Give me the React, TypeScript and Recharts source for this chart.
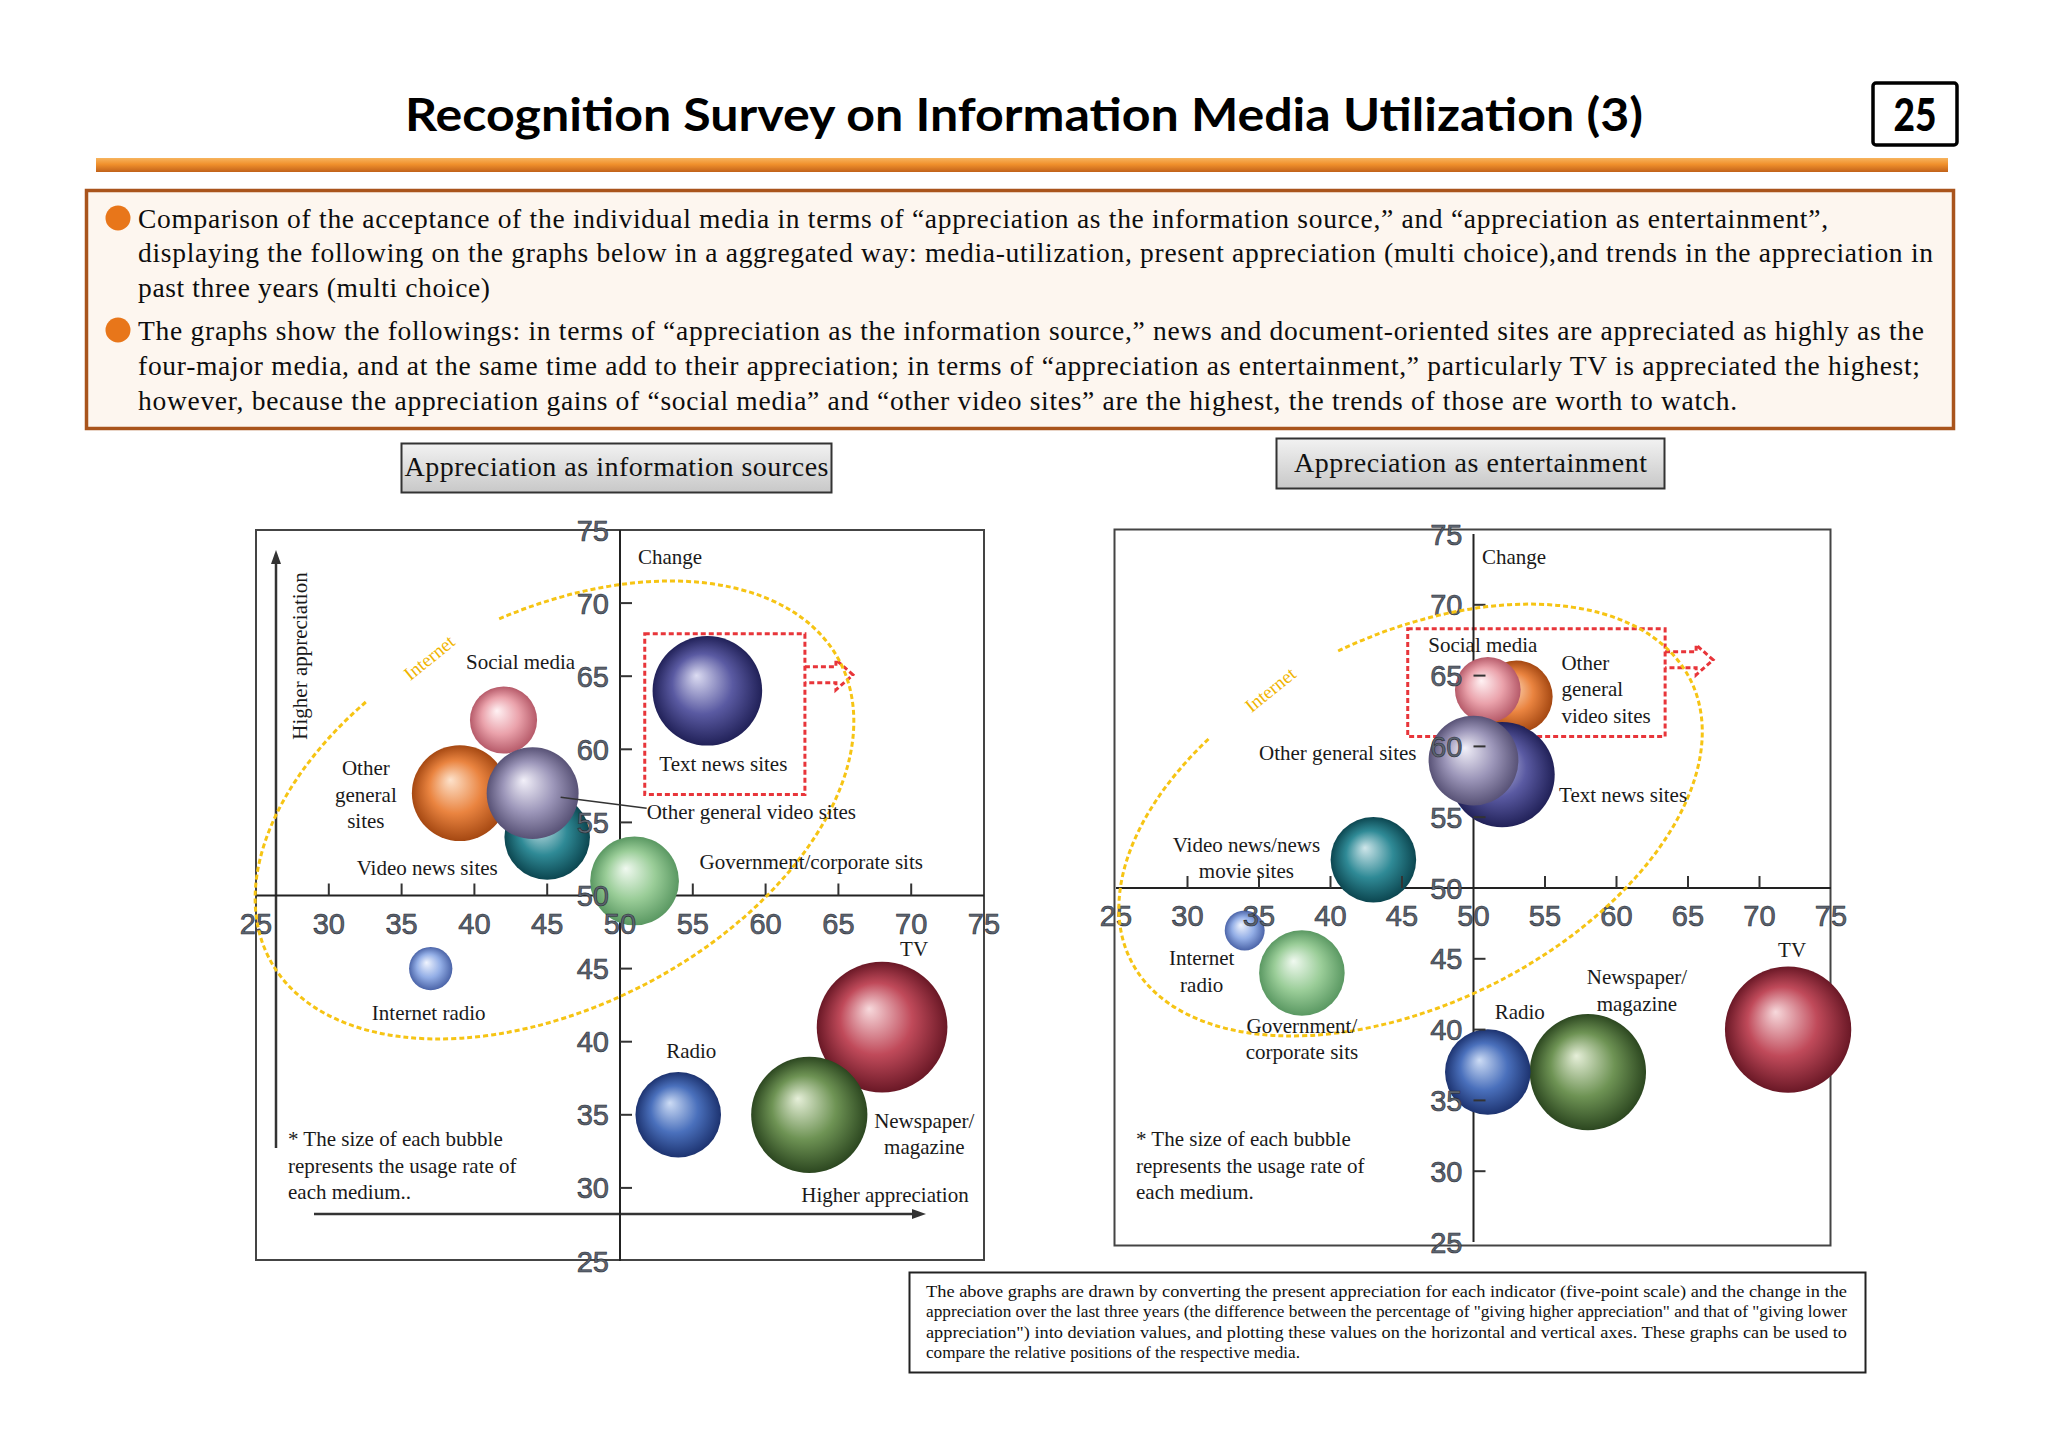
import React from "react";
import {
  ScatterChart,
  Scatter,
  XAxis,
  YAxis,
  ZAxis,
  ReferenceLine,
  ReferenceArea,
} from "recharts";

// ---- data (drawing order = back to front) ----
const INFO_MEDIA = [
  "TV",
  "Newspaper/magazine",
  "Radio",
  "Internet radio",
  "Government/corporate sits",
  "Video news sites",
  "Other general sites",
  "Social media",
  "Other general video sites",
  "Text news sites",
];
const INFO_APPRECIATION = [68, 63, 54, 37, 51, 45, 39, 42, 44, 56];
const INFO_CHANGE = [41, 35, 35, 45, 51, 54, 57, 62, 57, 64];
const INFO_USAGE = [91, 72, 39, 10, 42, 39, 49, 24, 45, 64];

const ENT_MEDIA = [
  "TV",
  "Newspaper/magazine",
  "Radio",
  "Internet radio",
  "Government/corporate sits",
  "Video news/news movie sites",
  "Other general video sites",
  "Social media",
  "Text news sites",
  "Other general sites",
];
const ENT_APPRECIATION = [72, 58, 51, 34, 38, 43, 53, 51, 52, 50];
const ENT_CHANGE = [40, 37, 37, 47, 44, 52, 63.5, 64, 58, 59];
const ENT_USAGE = [85, 72, 39, 8.5, 39, 39, 28, 23, 59, 43];

const AXIS_TICKS = [25, 30, 35, 40, 45, 50, 55, 60, 65, 70, 75];

// ---- styles / layout ----
const SPHERES: Record<string, [string, string, string]> = {
  tv: ["#f7d9dc", "#c04a5a", "#6a1826"],
  news: ["#e6efd9", "#6e9354", "#2c4720"],
  radio: ["#cddcf5", "#4a70bc", "#1d3370"],
  iradio: ["#f0f4fe", "#93aee6", "#4b64a8"],
  gov: ["#f0f9f0", "#9acd98", "#5a9862"],
  teal: ["#cfe6ea", "#2f8a96", "#0c4650"],
  orange: ["#fde2cb", "#ea8440", "#a54812"],
  pink: ["#fff2f4", "#eaa2ab", "#b65a69"],
  gray: ["#f2f0f9", "#9c96b9", "#585276"],
  navy: ["#dcdcf2", "#5a5aa2", "#212158"],
};
const INFO_FILLS = ["tv", "news", "radio", "iradio", "gov", "teal", "orange", "pink", "gray", "navy"];
const ENT_FILLS = ["tv", "news", "radio", "iradio", "gov", "teal", "orange", "pink", "navy", "gray"];

type Lbl = { lines: string[]; dx: number; dy: number; anchor?: string; leader?: number[] };

const INFO_LABELS: Lbl[] = [
  { lines: ["TV"], dx: 32, dy: -78 },
  { lines: ["Newspaper/", "magazine"], dx: 115, dy: 6 },
  { lines: ["Radio"], dx: 13, dy: -64 },
  { lines: ["Internet radio"], dx: -2, dy: 44 },
  { lines: ["Government/corporate sits"], dx: 65, dy: -19, anchor: "start" },
  { lines: ["Video news sites"], dx: -120, dy: 31 },
  { lines: ["Other", "general", "sites"], dx: -94, dy: -25 },
  { lines: ["Social media"], dx: 17, dy: -58 },
  { lines: ["Other general video sites"], dx: 114, dy: 19, anchor: "start", leader: [28, 4, 114, 15] },
  { lines: ["Text news sites"], dx: 16, dy: 73 },
];
const ENT_LABELS: Lbl[] = [
  { lines: ["TV"], dx: 4, dy: -80 },
  { lines: ["Newspaper/", "magazine"], dx: 49, dy: -95 },
  { lines: ["Radio"], dx: 32, dy: -60 },
  { lines: ["Internet", "radio"], dx: -43, dy: 28 },
  { lines: ["Government/", "corporate sits"], dx: 0, dy: 53 },
  { lines: ["Video news/news", "movie sites"], dx: -127, dy: -15 },
  { lines: ["Other", "general", "video sites"], dx: 45, dy: -34, anchor: "start" },
  { lines: ["Social media"], dx: -5, dy: -45 },
  { lines: ["Text news sites"], dx: 57, dy: 20, anchor: "start" },
  { lines: ["Other general sites"], dx: -57, dy: -8, anchor: "end" },
];

const SERIF = "'Liberation Serif', 'Times New Roman', serif";
const SANS = "'Liberation Sans', Arial, sans-serif";
const MAX_AREA = Math.PI * 68.5 * 68.5; // bubble area at 100% usage
const M = 40;

const buildRows = (media: string[], xs: number[], ys: number[], zs: number[], fills: string[], labels: Lbl[]) =>
  media.map((name, i) => ({ name, x: xs[i], y: ys[i], z: zs[i], grad: fills[i], label: labels[i] }));

const infoRows = buildRows(INFO_MEDIA, INFO_APPRECIATION, INFO_CHANGE, INFO_USAGE, INFO_FILLS, INFO_LABELS);
const entRows = buildRows(ENT_MEDIA, ENT_APPRECIATION, ENT_CHANGE, ENT_USAGE, ENT_FILLS, ENT_LABELS);

const xTickRows = AXIS_TICKS.map((v) => ({ x: v, y: 50, z: 0, v }));
const yTickRows = AXIS_TICKS.map((v) => ({ x: 50, y: v, z: 0, v }));

const Bubble = (p: any) => {
  const r = Math.sqrt(Math.max(p.size ?? 0, 0) / Math.PI);
  return <circle cx={p.cx} cy={p.cy} r={r} fill={`url(#sph-${p.payload.grad})`} />;
};

const BubbleLabel = (p: any) => {
  const l: Lbl = p.payload.label;
  const x = p.cx + l.dx;
  return (
    <g>
      {l.leader && (
        <line
          x1={p.cx + l.leader[0]}
          y1={p.cy + l.leader[1]}
          x2={p.cx + l.leader[2]}
          y2={p.cy + l.leader[3]}
          stroke="#333"
          strokeWidth={1.5}
        />
      )}
      <text x={x} y={p.cy + l.dy + 7} textAnchor={l.anchor || "middle"} fontFamily={SERIF} fontSize={21} fill="#1a1a1a">
        {l.lines.map((s, i) => (
          <tspan key={i} x={x} dy={i === 0 ? 0 : 26.5}>
            {s}
          </tspan>
        ))}
      </text>
    </g>
  );
};

const tickText = { fontFamily: SANS, fontSize: 29, fill: "#5c6470", stroke: "#2a2e36", strokeWidth: 0.6 };

const xTickShape = (drop: number) => (p: any) => {
  const v = p.payload.v;
  return (
    <g>
      {v > 25 && v < 75 && v !== 50 && (
        <line x1={p.cx} x2={p.cx} y1={p.cy} y2={p.cy - 12} stroke="#333" strokeWidth={2} />
      )}
      <text x={p.cx} y={p.cy + drop + 10.5} textAnchor="middle" {...tickText}>
        {v}
      </text>
    </g>
  );
};

const YTick = (p: any) => {
  const v = p.payload.v;
  return (
    <g>
      {v > 25 && v < 75 && v !== 50 && (
        <line x1={p.cx} x2={p.cx + 12} y1={p.cy} y2={p.cy} stroke="#333" strokeWidth={2} />
      )}
      <text x={p.cx - 11} y={p.cy + 10.5} textAnchor="end" {...tickText}>
        {v}
      </text>
    </g>
  );
};

type Ring = { a: number; b: number; rot: number; gap: number[]; tx: number; ty: number; trot: number };

const ringShape = (ring: Ring) => (p: any) => {
  const ph = (ring.rot * Math.PI) / 180;
  const pt = (t: number) => {
    const r = (t * Math.PI) / 180;
    return [
      p.cx + ring.a * Math.cos(r) * Math.cos(ph) - ring.b * Math.sin(r) * Math.sin(ph),
      p.cy + ring.a * Math.cos(r) * Math.sin(ph) + ring.b * Math.sin(r) * Math.cos(ph),
    ];
  };
  const [x0, y0] = pt(ring.gap[1]);
  const [x1, y1] = pt(ring.gap[0] + 360);
  const d = `M${x0},${y0} A${ring.a},${ring.b} ${ring.rot} 1 1 ${x1},${y1}`;
  return (
    <g>
      <path d={d} fill="none" stroke="#f6c414" strokeWidth={3} strokeDasharray="5 3" />
      <text
        transform={`translate(${p.cx + ring.tx},${p.cy + ring.ty}) rotate(${ring.trot})`}
        textAnchor="middle"
        y={6}
        fill="#f0b400"
        fontSize={19}
        fontFamily={SERIF}
      >
        Internet
      </text>
    </g>
  );
};

const redBox = (arrowDy: number) => (p: any) => {
  const { x, y, width, height } = p;
  const ex = x + width;
  const ym = y + arrowDy;
  const arrow = `M${ex},${ym - 8} L${ex + 31},${ym - 8} L${ex + 31},${ym - 15} L${ex + 48},${ym} L${ex + 31},${ym + 15} L${ex + 31},${ym + 8} L${ex},${ym + 8}`;
  return (
    <g>
      <rect x={x} y={y} width={width} height={height} fill="none" stroke="#e8353a" strokeWidth={3} strokeDasharray="5 3" />
      <path d={arrow} fill="none" stroke="#e8353a" strokeWidth={3} strokeDasharray="5 3" />
    </g>
  );
};

type Spec = {
  rows: any[];
  left: number;
  top: number;
  w: number;
  h: number;
  drop: number;
  area: { x1: number; x2: number; y1: number; y2: number; arrowDy: number };
  ringAt: { x: number; y: number; z: number }[];
  ring: Ring;
};

const MediaChart = ({ s }: { s: Spec }) => (
  <div style={{ position: "absolute", left: s.left - M, top: s.top - M }}>
    <ScatterChart width={s.w + 2 * M} height={s.h + 2 * M} margin={{ top: M, right: M, bottom: M, left: M }}>
      <XAxis type="number" dataKey="x" domain={[25, 75]} ticks={AXIS_TICKS} hide />
      <YAxis type="number" dataKey="y" domain={[25, 75]} ticks={AXIS_TICKS} hide />
      <ZAxis type="number" dataKey="z" domain={[0, 100]} range={[0, MAX_AREA]} />
      <Scatter data={s.rows} shape={Bubble} isAnimationActive={false} />
      <ReferenceLine x={50} stroke="#222" strokeWidth={2} />
      <ReferenceLine y={50} stroke="#222" strokeWidth={2} />
      <Scatter data={xTickRows} shape={xTickShape(s.drop)} isAnimationActive={false} />
      <Scatter data={yTickRows} shape={YTick} isAnimationActive={false} />
      <ReferenceArea
        x1={s.area.x1}
        x2={s.area.x2}
        y1={s.area.y1}
        y2={s.area.y2}
        shape={redBox(s.area.arrowDy)}
      />
      <Scatter data={s.ringAt} shape={ringShape(s.ring)} isAnimationActive={false} />
      <Scatter data={s.rows} shape={BubbleLabel} isAnimationActive={false} />
    </ScatterChart>
  </div>
);

const INFO_SPEC: Spec = {
  rows: infoRows,
  left: 256,
  top: 530,
  w: 728,
  h: 731,
  drop: 28,
  area: { x1: 51.7, x2: 62.7, y1: 56.9, y2: 67.9, arrowDy: 41 },
  ringAt: [{ x: 45.5, y: 55.85, z: 0 }],
  ring: { a: 321.6, b: 196.5, rot: -27.5, gap: [-111, -83], tx: -125, ty: -152, trot: -39 },
};

const ENT_SPEC: Spec = {
  rows: entRows,
  left: 1116,
  top: 534,
  w: 715,
  h: 708,
  drop: 27.5,
  area: { x1: 45.4, x2: 63.4, y1: 60.7, y2: 68.3, arrowDy: 31 },
  ringAt: [{ x: 45.6, y: 54.8, z: 0 }],
  ring: { a: 313, b: 183.7, rot: -26.6, gap: [-117, -88], tx: -140, ty: -130, trot: -39 },
};

const SUMMARY = [
  { y: 228, w: 1690, t: "Comparison of the acceptance of the individual media in terms of \u201cappreciation as the information source,\u201d and \u201cappreciation as entertainment\u201d," },
  { y: 262, w: 1795, t: "displaying the following on the graphs below in a aggregated way: media-utilization, present appreciation (multi choice),and trends in the appreciation in" },
  { y: 297, w: 352, t: "past three years (multi choice)" },
  { y: 340, w: 1786, t: "The graphs show the followings: in terms of \u201cappreciation as the information source,\u201d news and document-oriented sites are appreciated as highly as the" },
  { y: 375, w: 1782, t: "four-major media, and at the same time add to their appreciation; in terms of \u201cappreciation as entertainment,\u201d particularly TV is appreciated the highest;" },
  { y: 410, w: 1599, t: "however, because the appreciation gains of \u201csocial media\u201d and \u201cother video sites\u201d are the highest, the trends of those are worth to watch." },
];

const NOTE = [
  { y: 1297, w: 921, t: "The above graphs are drawn by converting the present appreciation for each indicator (five-point scale) and the change in the" },
  { y: 1317, w: 921, t: "appreciation over the last three years (the difference between the percentage of \"giving higher appreciation\" and that of \"giving lower" },
  { y: 1338, w: 921, t: "appreciation\") into deviation values, and plotting these values on the horizontal and vertical axes. These graphs can be used to" },
  { y: 1358, w: 374, t: "compare the relative positions of the respective media." },
];

const BUBBLE_NOTE = ["* The size of each bubble", "represents the usage rate of"];

const Page = () => (
  <svg width={2048} height={1448} style={{ position: "absolute", left: 0, top: 0 }}>
    <defs>
      {Object.entries(SPHERES).map(([k, [hi, mid, lo]]) => (
        <radialGradient key={k} id={`sph-${k}`} cx="50%" cy="50%" r="50%" fx="40%" fy="36%">
          <stop offset="0%" stopColor={hi} />
          <stop offset="55%" stopColor={mid} />
          <stop offset="100%" stopColor={lo} />
        </radialGradient>
      ))}
      <linearGradient id="bar" x1="0" y1="0" x2="0" y2="1">
        <stop offset="0%" stopColor="#f7b45e" />
        <stop offset="45%" stopColor="#f0902c" />
        <stop offset="100%" stopColor="#c1621a" />
      </linearGradient>
      <linearGradient id="tab" x1="0" y1="0" x2="0" y2="1">
        <stop offset="0%" stopColor="#f2f2f2" />
        <stop offset="100%" stopColor="#c8c8c8" />
      </linearGradient>
    </defs>
    <rect width={2048} height={1448} fill="#fff" />

    {/* title */}
    <text x={1024} y={131} textAnchor="middle" fontFamily="Lato, sans-serif" fontWeight={700} fontSize={45} textLength={1238} lengthAdjust="spacingAndGlyphs">
      Recognition Survey on Information Media Utilization (3)
    </text>
    <rect x={1873} y={83} width={84} height={62} rx={3} fill="#fff" stroke="#000" strokeWidth={3.5} />
    <text x={1915} y={131} textAnchor="middle" fontFamily="Lato, sans-serif" fontWeight={900} fontSize={46} textLength={43} lengthAdjust="spacingAndGlyphs">
      25
    </text>
    <rect x={96} y={158} width={1852} height={14} fill="url(#bar)" />

    {/* summary box */}
    <rect x={86.5} y={190.5} width={1867} height={238} fill="#fdf6ef" stroke="#a9541c" strokeWidth={3.5} />
    <circle cx={118} cy={218} r={12.5} fill="#e8761a" />
    <circle cx={118} cy={330} r={12.5} fill="#e8761a" />
    {SUMMARY.map((l, i) => (
      <text key={i} x={138} y={l.y} fontFamily={SERIF} fontSize={27.5} fill="#0d0d0d" textLength={l.w} lengthAdjust="spacing">
        {l.t}
      </text>
    ))}

    {/* chart titles */}
    <rect x={401.5} y={443.5} width={430} height={49} fill="url(#tab)" stroke="#333" strokeWidth={2} />
    <text x={616.5} y={476} textAnchor="middle" fontFamily={SERIF} fontSize={28} fill="#111" textLength={424} lengthAdjust="spacing">
      Appreciation as information sources
    </text>
    <rect x={1276.5} y={438.5} width={388} height={50} fill="url(#tab)" stroke="#333" strokeWidth={2} />
    <text x={1470.5} y={472} textAnchor="middle" fontFamily={SERIF} fontSize={28} fill="#111" textLength={353} lengthAdjust="spacing">
      Appreciation as entertainment
    </text>

    {/* chart frames */}
    <rect x={256} y={530} width={728} height={730} fill="none" stroke="#444" strokeWidth={2} />
    <rect x={1114.5} y={529.5} width={716} height={716} fill="none" stroke="#444" strokeWidth={2} />

    {/* left chart annotations */}
    <line x1={276} y1={1148} x2={276} y2={562} stroke="#333" strokeWidth={2.5} />
    <path d="M271,564 L276,550 L281,564 Z" fill="#333" />
    <text transform="translate(300,656) rotate(-90)" textAnchor="middle" y={7} fontFamily={SERIF} fontSize={21} fill="#1a1a1a">
      Higher appreciation
    </text>
    <line x1={314} y1={1214} x2={914} y2={1214} stroke="#333" strokeWidth={2.5} />
    <path d="M912,1209 L926,1214 L912,1219 Z" fill="#333" />
    <text x={885} y={1202} textAnchor="middle" fontFamily={SERIF} fontSize={21} fill="#1a1a1a">
      Higher appreciation
    </text>
    <text x={638} y={564} fontFamily={SERIF} fontSize={21} fill="#1a1a1a">
      Change
    </text>
    <text x={1482} y={564} fontFamily={SERIF} fontSize={21} fill="#1a1a1a">
      Change
    </text>
    {[288, 1136].map((x, k) => (
      <text key={k} fontFamily={SERIF} fontSize={21} fill="#1a1a1a">
        {[...BUBBLE_NOTE, k === 0 ? "each medium.." : "each medium."].map((s, i) => (
          <tspan key={i} x={x} y={1146 + i * 26.5}>
            {s}
          </tspan>
        ))}
      </text>
    ))}

    {/* method note */}
    <rect x={909.5} y={1272.5} width={956} height={100} fill="#fff" stroke="#222" strokeWidth={2} />
    {NOTE.map((l, i) => (
      <text key={i} x={926} y={l.y} fontFamily={SERIF} fontSize={17.5} fill="#111" textLength={l.w} lengthAdjust="spacingAndGlyphs">
        {l.t}
      </text>
    ))}
  </svg>
);

export default function App() {
  return (
    <div style={{ position: "absolute", left: 0, top: 0, width: 2048, height: 1448, background: "#fff" }}>
      <Page />
      <MediaChart s={INFO_SPEC} />
      <MediaChart s={ENT_SPEC} />
    </div>
  );
}
